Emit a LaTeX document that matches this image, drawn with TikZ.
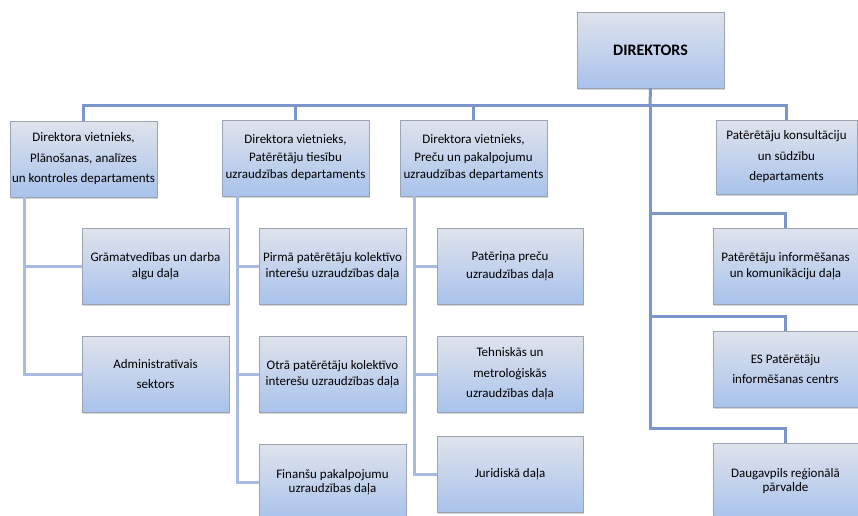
\documentclass[tikz,border=0pt]{standalone}
\usepackage{fontspec}
\setmainfont{Carlito}
\usepackage{tikz}
\usetikzlibrary{shadows}

\definecolor{boxtop}{HTML}{DFE3EC}
\definecolor{boxbot}{HTML}{A9C3EC}
\definecolor{boxline}{HTML}{9AA4B4}
\definecolor{busline}{HTML}{7B97C9}
\definecolor{subline}{HTML}{A7BCE0}

\tikzset{
	unit/.style={draw=boxline, line width=0.6pt, top color=boxtop, bottom color=boxbot,
		minimum width=147pt, minimum height=76pt, inner sep=1pt, outer sep=0pt, align=center,
		font=\fontsize{13}{15.5}\selectfont,
		drop shadow={shadow xshift=1.2pt, shadow yshift=-1.5pt, opacity=.35}},
	loose/.style={font=\fontsize{13}{20.5}\selectfont},
	bus/.style={draw=busline, line width=3pt},
	sub/.style={draw=subline, line width=3pt}
}

\begin{document}
\begin{tikzpicture}[x=1pt,y=-1pt]
	\useasboundingbox (0,0) rectangle (858,515);
	\clip (0,0) rectangle (858,515);
	
	%director
	\node[unit, font=\fontsize{16}{18}\selectfont\bfseries] (dir) at (650.5,50) {DIREKTORS};
	
	%deputies and departments
	\node[unit, loose] (dA) at (83.5,159) {Direktora vietnieks,\\Plānošanas, analīzes\\un kontroles departaments};
	\node[unit, font=\fontsize{13}{17.5}\selectfont] (dB) at (295.5,158) {Direktora vietnieks,\\Patērētāju tiesību\\uzraudzības departaments};
	\node[unit, font=\fontsize{13}{17.5}\selectfont] (dC) at (473.5,158) {Direktora vietnieks,\\Preču un pakalpojumu\\uzraudzības departaments};
	\node[unit, loose, minimum width=141pt, minimum height=74pt] (dD) at (786.5,157) {Patērētāju konsultāciju\\un sūdzību\\departaments};
	
	%units under A
	\node[unit] (gram) at (155.5,266) {Grāmatvedības un darba\\algu daļa};
	\node[unit, loose] (admin) at (155.5,374) {Administratīvais\\sektors};
	
	%units under B
	\node[unit] (pirma) at (332.5,266) {Pirmā patērētāju kolektīvo\\interešu uzraudzības daļa};
	\node[unit] (otra) at (332.5,374) {Otrā patērētāju kolektīvo\\interešu uzraudzības daļa};
	\node[unit, font=\fontsize{13}{14.5}\selectfont] (fin) at (332.5,482) {Finanšu pakalpojumu\\uzraudzības daļa};
	
	%units under C
	\node[unit, minimum width=146pt, font=\fontsize{13}{18}\selectfont] (pateri) at (510,266) {Patēriņa preču\\uzraudzības daļa};
	\node[unit, loose, minimum width=146pt] (tehn) at (510,374) {Tehniskās un\\metroloģiskās\\uzraudzības daļa};
	\node[unit, minimum width=146pt] (jur) at (510,474.5) {Juridiskā daļa};
	
	%units under the director
	\node[unit, minimum width=145pt, font=\fontsize{13}{16}\selectfont] (info) at (785.5,266) {Patērētāju informēšanas\\un komunikāciju daļa};
	\node[unit, loose, minimum width=145pt] (es) at (785.5,369) {ES Patērētāju\\informēšanas centrs};
	\node[unit, font=\fontsize{13}{14.5}\selectfont, minimum width=145pt] (daug) at (785.5,481) {Daugavpils reģionālā\\pārvalde};
	
	%bus
	\coordinate (bus) at (650,105);
	\draw[bus] (dir.south) -- (bus);
	\draw[bus] (bus) -| (dA.north);
	\draw[bus] (bus) -| (dB.north);
	\draw[bus] (bus) -| (dC.north);
	\draw[bus] (bus) -| (dD.north);
	
	%column A
	\draw[sub] ([xshift=14pt]dA.south west) |- (gram.west);
	\draw[sub] ([xshift=14pt]dA.south west) |- (admin.west);
	
	%column B
	\draw[sub] ([xshift=15pt]dB.south west) |- (pirma.west);
	\draw[sub] ([xshift=15pt]dB.south west) |- (otra.west);
	\draw[sub] ([xshift=15pt]dB.south west) |- (fin.west);
	
	%column C
	\draw[sub] ([xshift=14pt]dC.south west) |- (pateri.west);
	\draw[sub] ([xshift=14pt]dC.south west) |- (tehn.west);
	\draw[sub] ([xshift=14pt]dC.south west) |- (jur.west);
	
	%director's own units
	\draw[bus] (bus) |- ([yshift=15pt]info.north) -- (info.north);
	\draw[bus] (bus) |- ([yshift=15pt]es.north) -- (es.north);
	\draw[bus] (bus) |- ([yshift=15pt]daug.north) -- (daug.north);
\end{tikzpicture}
\end{document}
